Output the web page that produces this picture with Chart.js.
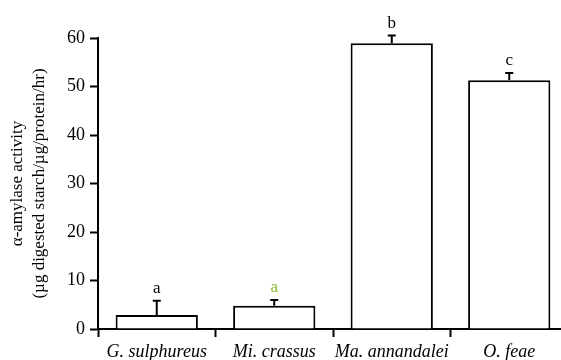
<!DOCTYPE html>
<html>
<head>
<meta charset="utf-8">
<script src="https://cdn.jsdelivr.net/npm/chart.js@4.4.1/dist/chart.umd.min.js"></script>
<style>
  html, body { margin: 0; padding: 0; background: #fff; overflow: hidden; }
  #wrap { width: 575px; height: 360px; }
</style>
</head>
<body>
<div id="wrap"><canvas id="c" width="575" height="360"></canvas></div>
<script>
const categories = ['G. sulphureus', 'Mi. crassus', 'Ma. annandalei', 'O. feae'];
const activity = [2.9, 4.8, 58.9, 51.3];
const errorSE = [2.9, 1.2, 1.6, 1.5];
const letters = ['a', 'a', 'b', 'c'];
const letterColors = ['#000000', '#8db82b', '#000000', '#000000'];
const yTicks = [0, 10, 20, 30, 40, 50, 60];
const yTitle = ['\u03B1-amylase activity', '(\u00B5g digested starch/\u00B5g/protein/hr)'];

const SERIF = '"Liberation Serif", "Times New Roman", serif';

const errorPlugin = {
  id: 'errLetters',
  afterDatasetsDraw(chart) {
    const ctx = chart.ctx;
    const x = chart.scales.x, y = chart.scales.y;
    ctx.save();
    ctx.strokeStyle = '#000';
    ctx.lineWidth = 2;
    activity.forEach((v, i) => {
      const cx = x.getPixelForValue(i);
      const yb = y.getPixelForValue(v);
      const yt = y.getPixelForValue(v + errorSE[i]);
      ctx.beginPath();
      ctx.moveTo(cx, yb);
      ctx.lineTo(cx, yt);
      ctx.moveTo(cx - 4, yt);
      ctx.lineTo(cx + 4, yt);
      ctx.stroke();
      ctx.fillStyle = letterColors[i];
      ctx.font = '17px ' + SERIF;
      ctx.textAlign = 'center';
      ctx.textBaseline = 'alphabetic';
      ctx.fillText(letters[i], cx, yt - 8);
    });
    ctx.restore();
  }
};

new Chart(document.getElementById('c'), {
  type: 'bar',
  data: {
    labels: categories,
    datasets: [{
      data: activity,
      backgroundColor: '#ffffff',
      borderColor: '#000000',
      borderWidth: 2,
      borderSkipped: 'bottom',
      categoryPercentage: 1.0,
      barPercentage: 0.70
    }]
  },
  options: {
    responsive: false,
    animation: false,
    devicePixelRatio: 1,
    layout: { padding: { top: 38, right: 7, bottom: 0, left: 0 } },
    plugins: { legend: { display: false }, tooltip: { enabled: false } },
    scales: {
      x: {
        type: 'category',
        offset: true,
        grid: {
          offset: true,
          drawOnChartArea: false,
          drawTicks: true,
          tickLength: 8,
          tickWidth: 2,
          tickColor: '#000'
        },
        border: { display: true, color: '#000', width: 2 },
        ticks: {
          color: '#000',
          padding: 4,
          maxRotation: 0,
          autoSkip: false,
          font: { family: SERIF, size: 18, style: 'italic' }
        },
        afterFit(scale) { scale.height = 31; }
      },
      y: {
        min: 0,
        max: 60,
        afterBuildTicks(scale) { scale.ticks = yTicks.map(v => ({ value: v })); },
        grid: {
          drawOnChartArea: false,
          drawTicks: true,
          tickLength: 8,
          tickWidth: 2,
          tickColor: '#000'
        },
        border: { display: true, color: '#000', width: 2 },
        ticks: {
          color: '#000',
          padding: 5,
          font: { family: SERIF, size: 18 }
        },
        title: {
          display: true,
          text: yTitle,
          color: '#000',
          padding: { top: 6, bottom: 0 },
          font: { family: SERIF, size: 17, lineHeight: 1.3 }
        },
        afterFit(scale) { scale.width = 98; }
      }
    }
  },
  plugins: [errorPlugin]
});
</script>
</body>
</html>
